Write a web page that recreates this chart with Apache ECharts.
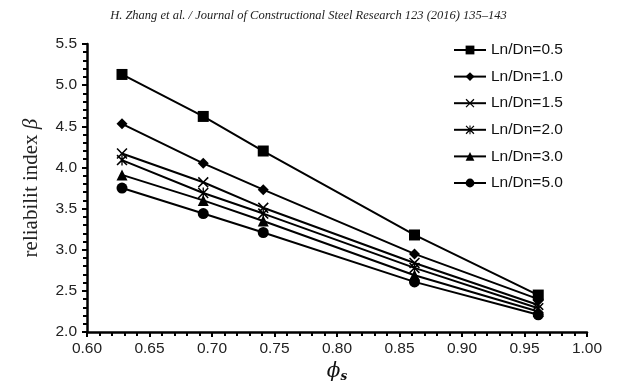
<!DOCTYPE html>
<html>
<head>
<meta charset="utf-8">
<script src="https://cdn.jsdelivr.net/npm/echarts@6/dist/echarts.min.js"></script>
<style>
html,body{margin:0;padding:0;background:#fff;}
#chart{width:617px;height:388px;}
</style>
</head>
<body>
<div id="chart"></div>
<script>
// phi_s values (x)
var phiS = [0.628, 0.693, 0.741, 0.862, 0.961];
var seriesNames = ['Ln/Dn=0.5', 'Ln/Dn=1.0', 'Ln/Dn=1.5', 'Ln/Dn=2.0', 'Ln/Dn=3.0', 'Ln/Dn=5.0'];
var beta05 = [5.13, 4.62, 4.20, 3.18, 2.45];
var beta10 = [4.53, 4.05, 3.73, 2.95, 2.40];
var beta15 = [4.17, 3.82, 3.51, 2.84, 2.33];
var beta20 = [4.09, 3.69, 3.44, 2.78, 2.29];
var beta30 = [3.91, 3.60, 3.35, 2.69, 2.25];
var beta50 = [3.75, 3.44, 3.21, 2.61, 2.21];

var crossPath = 'path://M0,1 L1,0 L5,4 L9,0 L10,1 L6,5 L10,9 L9,10 L5,6 L1,10 L0,9 L4,5 Z';
var starPath = 'path://M0,1 L1,0 L5,4 L9,0 L10,1 L6,5 L10,9 L9,10 L5,6 L1,10 L0,9 L4,5 Z M4.4,0 L5.6,0 L5.6,10 L4.4,10 Z';

var symbols = ['rect', 'diamond', crossPath, starPath, 'triangle', 'circle'];
var sizes = [11, 11, 11, 11, 11, 11];
var allBeta = [beta05, beta10, beta15, beta20, beta30, beta50];

function pairs(ys) {
  var out = [];
  for (var i = 0; i < phiS.length; i++) out.push([phiS[i], ys[i]]);
  return out;
}

var chart = echarts.init(document.getElementById('chart'));
var series = [];
for (var k = 0; k < seriesNames.length; k++) {
  series.push({
    name: seriesNames[k],
    type: 'line',
    data: pairs(allBeta[k]),
    symbol: symbols[k],
    symbolSize: sizes[k],
    showAllSymbol: true,
    lineStyle: { color: '#000', width: 2 },
    itemStyle: { color: '#000', borderWidth: 0 },
    z: 10 - k,
    animation: false
  });
}

var option = {
  backgroundColor: '#fff',
  animation: false,
  title: {
    text: 'H. Zhang et al. / Journal of Constructional Steel Research 123 (2016) 135–143',
    left: 'center',
    top: 4,
    textStyle: {
      fontFamily: 'Liberation Sans Narrow',
      fontStyle: 'italic',
      fontWeight: 'normal',
      fontSize: 12.5,
      color: '#222'
    }
  },
  grid: { left: 87, right: 30, top: 44, bottom: 53, containLabel: false },
  legend: {
    orient: 'vertical',
    left: 448,
    top: 37,
    itemWidth: 32,
    itemHeight: 11,
    itemGap: 10.6,
    textStyle: { fontFamily: 'Liberation Sans', fontSize: 15.5, color: '#111' },
    data: seriesNames
  },
  xAxis: {
    type: 'value',
    min: 0.6,
    max: 1.0,
    interval: 0.05,
    name: '{a|ϕ}{b|s}',
    nameLocation: 'middle',
    nameGap: 27,
    nameTextStyle: {
      rich: {
        a: { fontFamily: 'DejaVu Serif', fontStyle: 'italic', fontSize: 20, color: '#111' },
        b: { fontFamily: 'DejaVu Serif', fontStyle: 'italic', fontWeight: 'bold', fontSize: 12, color: '#111', verticalAlign: 'bottom', padding: [10, 0, 0, 0] }
      }
    },
    axisLine: { lineStyle: { color: '#000', width: 2.5 } },
    axisTick: { show: true, length: 5, lineStyle: { color: '#000', width: 2 } },
    minorTick: { show: true, splitNumber: 5, length: 4, lineStyle: { color: '#000', width: 2 } },
    splitLine: { show: false },
    axisLabel: {
      fontFamily: 'Liberation Sans',
      fontSize: 15.5,
      color: '#222',
      margin: 9,
      formatter: function (v) { return v.toFixed(2); }
    }
  },
  yAxis: {
    type: 'value',
    min: 2.0,
    max: 5.5,
    interval: 0.5,
    name: '{a|reliabilit index }{b|β}',
    nameLocation: 'middle',
    nameGap: 45,
    nameTextStyle: {
      rich: {
        a: { fontFamily: 'Liberation Serif', fontSize: 21, color: '#222' },
        b: { fontFamily: 'Liberation Serif', fontStyle: 'italic', fontSize: 21, color: '#222' }
      }
    },
    axisLine: { show: true, lineStyle: { color: '#000', width: 2.5 } },
    axisTick: { show: true, length: 5, lineStyle: { color: '#000', width: 2 } },
    minorTick: { show: true, splitNumber: 5, length: 4, lineStyle: { color: '#000', width: 2 } },
    splitLine: { show: false },
    axisLabel: {
      fontFamily: 'Liberation Sans',
      fontSize: 15.5,
      color: '#222',
      margin: 10,
      formatter: function (v) { return v.toFixed(1); }
    }
  },
  series: series
};
chart.setOption(option);
</script>
</body>
</html>
